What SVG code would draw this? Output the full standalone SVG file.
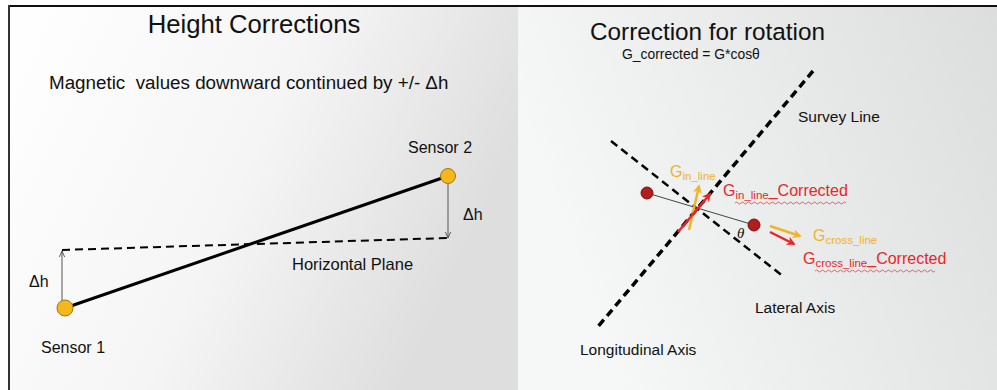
<svg xmlns="http://www.w3.org/2000/svg" width="997" height="390" viewBox="0 0 997 390">
<defs>
<linearGradient id="bgL" x1="0" y1="0" x2="1" y2="0.35">
<stop offset="0" stop-color="#ffffff"/>
<stop offset="0.55" stop-color="#f5f5f5"/>
<stop offset="1" stop-color="#dedede"/>
</linearGradient>
<linearGradient id="bgR" x1="0" y1="0.3" x2="1" y2="0">
<stop offset="0" stop-color="#f6f7f7"/>
<stop offset="1" stop-color="#dcdddd"/>
</linearGradient>
<marker id="open" viewBox="0 0 10 10" refX="9" refY="5" markerWidth="7" markerHeight="7" orient="auto" markerUnits="userSpaceOnUse">
<path d="M0,1 L9,5 L0,9" fill="none" stroke="#444" stroke-width="1.2"/>
</marker>
<marker id="ay" viewBox="0 0 10 10" refX="8" refY="5" markerWidth="9" markerHeight="9" orient="auto" markerUnits="userSpaceOnUse">
<path d="M0,0 L10,5 L0,10 L3,5 Z" fill="#f0b428"/>
</marker>
<marker id="ar" viewBox="0 0 10 10" refX="8" refY="5" markerWidth="9" markerHeight="9" orient="auto" markerUnits="userSpaceOnUse">
<path d="M0,0 L10,5 L0,10 L3,5 Z" fill="#e8262a"/>
</marker>
</defs>
<style>
text{font-family:"Liberation Sans",Arial,sans-serif;fill:#111}
.title{font-size:25.7px}
.lab{font-size:15.5px}
.yel{fill:#f0b428;font-size:16px}
.red{fill:#e8262a;font-size:16px}
.sub{font-size:11.5px}
.dash{fill:none;stroke:#000;stroke-dasharray:8 5}
.sq{fill:none;stroke:#e8262a;stroke-width:0.7}
</style>
<rect x="0" y="0" width="997" height="390" fill="#ffffff"/>
<rect x="8" y="6" width="510" height="384" fill="url(#bgL)"/>
<rect x="518" y="6" width="479" height="384" fill="url(#bgR)"/>
<line x1="8" y1="6" x2="997" y2="6" stroke="#111" stroke-width="2"/>
<line x1="9" y1="5" x2="9" y2="390" stroke="#333" stroke-width="2"/>

<g id="left-texts">
<text class="title" x="254" y="33" text-anchor="middle">Height Corrections</text>
<text x="49" y="89" style="font-size:18.8px" xml:space="preserve">Magnetic  values downward continued by +/- Δh</text>
<text x="292" y="270" style="font-size:16.5px">Horizontal Plane</text>
<text x="29" y="287" style="font-size:16px">Δh</text>
<text x="463" y="220" style="font-size:16px">Δh</text>
</g>

<g id="connectors">
<line x1="65" y1="308" x2="448" y2="176" stroke="#000" stroke-width="3"/>
<line class="dash" x1="62" y1="250" x2="448" y2="238" stroke-width="2"/>
<line x1="62" y1="302" x2="62" y2="251" stroke="#555" stroke-width="1" marker-end="url(#open)"/>
<line x1="448" y1="184" x2="448" y2="238" stroke="#555" stroke-width="1" marker-end="url(#open)"/>
<line class="dash" x1="813" y1="71" x2="596" y2="329" stroke-width="3.5" stroke-dasharray="9 5"/>
<line class="dash" x1="611" y1="141" x2="784" y2="277" stroke-width="2.5"/>
<line x1="647" y1="193" x2="754" y2="225" stroke="#444" stroke-width="1"/>
<line x1="689" y1="230" x2="699" y2="186" stroke="#f0b428" stroke-width="2.5" marker-end="url(#ay)"/>
<line x1="678" y1="232" x2="710" y2="194" stroke="#e8262a" stroke-width="2.5" marker-end="url(#ar)"/>
<line x1="770" y1="226" x2="800" y2="236" stroke="#f0b428" stroke-width="2.5" marker-end="url(#ay)"/>
<line x1="770" y1="232" x2="794" y2="244" stroke="#e8262a" stroke-width="2.5" marker-end="url(#ar)"/>
</g>

<g id="sensor1">
<circle cx="65" cy="308" r="8" fill="#f4b81c" stroke="#a07810" stroke-width="1"/>
<text x="41" y="353" style="font-size:16px">Sensor 1</text>
</g>
<g id="sensor2">
<circle cx="448" cy="176" r="7.5" fill="#f4b81c" stroke="#a07810" stroke-width="1"/>
<text x="408" y="153" style="font-size:16px">Sensor 2</text>
</g>

<g id="right-texts">
<text class="title" x="590" y="40" style="font-size:24.3px">Correction for rotation</text>
<text x="622" y="59" style="font-size:13.9px">G_corrected = G*cosθ</text>
<text class="lab" x="798" y="122">Survey Line</text>
<text class="lab" x="755" y="313">Lateral Axis</text>
<text class="lab" x="580" y="355">Longitudinal Axis</text>
<text x="737" y="238" style="font-family:'Liberation Serif',serif;font-style:italic;font-size:15px">θ</text>
</g>

<g id="dot1"><circle cx="647" cy="193" r="6" fill="#b01e1e" stroke="#7a1010" stroke-width="1"/></g>
<g id="dot2"><circle cx="754" cy="225" r="6" fill="#b01e1e" stroke="#7a1010" stroke-width="1"/></g>

<g id="vector-labels">
<text class="yel" x="670" y="177">G<tspan class="sub" dy="3">in_line</tspan></text>
<text class="red" x="723" y="196">G<tspan class="sub" dy="3">in_line</tspan><tspan dy="-3">_Corrected</tspan></text>
<path class="sq" d="M735,203 q1.5,-2 3,0 t3,0 t3,0 t3,0 t3,0 t3,0 t3,0 t3,0 t3,0 t3,0 t3,0 t3,0 t3,0 t3,0 t3,0 t3,0 t3,0 t3,0 t3,0 t3,0 t3,0 t3,0 t3,0 t3,0 t3,0 t3,0 t3,0 t3,0 t3,0 t3,0 t3,0 t3,0 t3,0 t3,0 t3,0 t3,0 t3,0"/>
<text class="yel" x="813" y="241">G<tspan class="sub" dy="3">cross_line</tspan></text>
<text class="red" x="803" y="264">G<tspan class="sub" dy="3">cross_line</tspan><tspan dy="-3">_Corrected</tspan></text>
<path class="sq" d="M815,271 q1.5,-2 3,0 t3,0 t3,0 t3,0 t3,0 t3,0 t3,0 t3,0 t3,0 t3,0 t3,0 t3,0 t3,0 t3,0 t3,0 t3,0 t3,0 t3,0 t3,0 t3,0 t3,0 t3,0 t3,0 t3,0 t3,0 t3,0 t3,0 t3,0 t3,0 t3,0 t3,0 t3,0 t3,0 t3,0 t3,0 t3,0 t3,0 t3,0 t3,0 t3,0"/>
</g>
</svg>
